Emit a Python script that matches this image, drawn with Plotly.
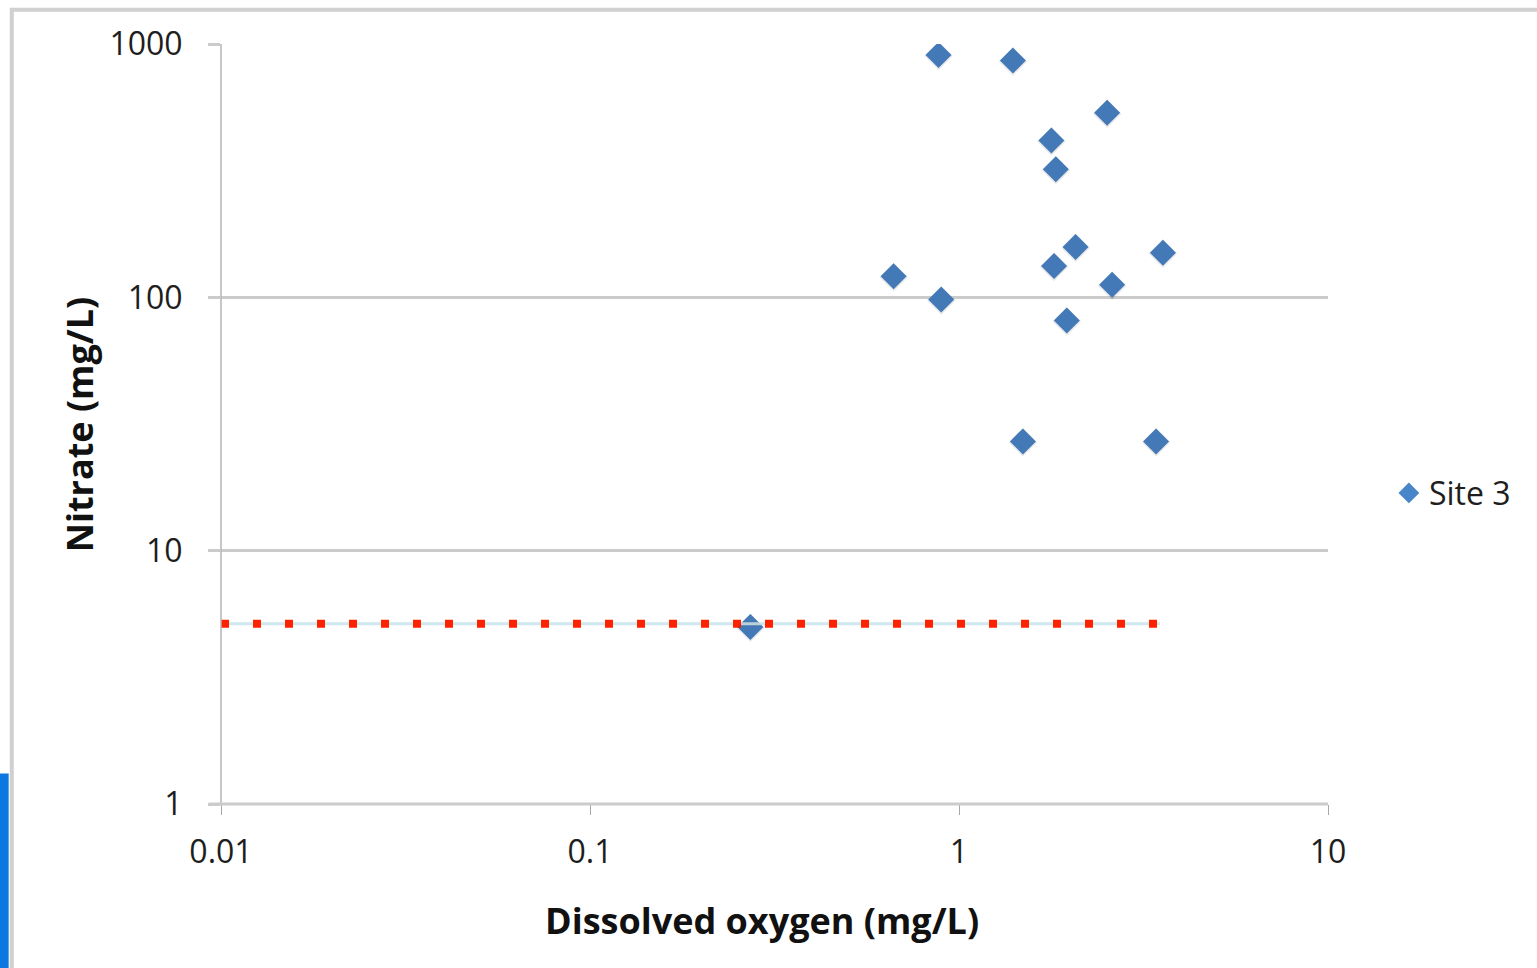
import plotly.graph_objects as go

# Site 3 samples: dissolved oxygen vs nitrate (both mg/L)
dissolved_oxygen = [0.88, 1.40, 2.52, 1.78, 1.83, 2.07, 3.57, 1.81, 0.665, 2.60, 0.895, 1.96, 1.49, 3.42, 0.272]
nitrate = [905, 860, 535, 416, 320, 158, 150, 133, 121, 112, 98, 81, 27, 27, 5.0]

# Reference level line
ref_x = [0.01, 3.5]
ref_y = [5.15, 5.15]

x_ticks = [0.01, 0.1, 1, 10]
x_tick_text = ["0.01", "0.1", "1", "10"]
y_ticks = [1, 10, 100, 1000]
y_tick_text = ["1", "10", "100", "1000"]

FONT = "'Open Sans', Lato, sans-serif"
BLUE = "#4985c9"
GRID = "#cbcbcb"
TEXT = "#1e1e1e"

fig = go.Figure()

# soft drop shadow behind the markers
fig.add_trace(go.Scatter(
    x=dissolved_oxygen, y=nitrate, mode="markers",
    marker=dict(symbol="diamond", size=22, color="rgba(0,0,0,0.09)", line=dict(width=0)),
    showlegend=False, hoverinfo="skip",
    xaxis="x2", yaxis="y2",
))

fig.add_trace(go.Scatter(
    x=dissolved_oxygen, y=nitrate, mode="markers", name="Site 3",
    marker=dict(symbol="diamond", size=20, color=BLUE, line=dict(width=0)),
))

fig.add_trace(go.Scatter(
    x=ref_x, y=ref_y, mode="lines", showlegend=False, hoverinfo="skip",
    line=dict(color="#cfe7ee", width=3),
))
fig.add_trace(go.Scatter(
    x=ref_x, y=ref_y, mode="lines", showlegend=False, hoverinfo="skip",
    line=dict(color="#ff2200", width=8, dash="8px,24px"),
))

axis_common = dict(type="log", showline=False, zeroline=False)

fig.update_layout(
    width=1537, height=968,
    margin=dict(l=220.5, r=209, t=44, b=163.5, pad=0),
    paper_bgcolor="white", plot_bgcolor="white",
    font=dict(family=FONT, size=32, color=TEXT),
    xaxis=dict(
        **axis_common, range=[-2, 1], tickvals=x_ticks, ticktext=x_tick_text,
        showgrid=False, ticks="outside", ticklen=10, tickwidth=1, tickcolor="#a8a8a8",
        ticklabelstandoff=10, tickfont=dict(size=32, color=TEXT),
    ),
    yaxis=dict(
        **axis_common, range=[0, 3], tickvals=y_ticks, ticktext=y_tick_text,
        showgrid=True, gridcolor=GRID, gridwidth=3,
        ticks="outside", ticklen=12, tickwidth=3, tickcolor=GRID,
        ticklabelstandoff=19, tickfont=dict(size=32, color=TEXT),
    ),
    xaxis2=dict(type="log", range=[-2, 1], overlaying="x", visible=False),
    yaxis2=dict(type="log", range=[0.0035, 3.0035], overlaying="y", visible=False),
    legend=dict(
        x=1.055, y=0.409, xanchor="left", yanchor="middle",
        font=dict(size=32, color=TEXT), bgcolor="rgba(0,0,0,0)",
        itemwidth=30, tracegroupgap=0,
    ),
    showlegend=True,
    annotations=[
        dict(text="<b>Dissolved oxygen (mg/L)</b>", xref="paper", yref="paper",
             x=0.489, y=-0.153, xanchor="center", yanchor="middle", showarrow=False,
             font=dict(size=36, color="#111111")),
        dict(text="<b>Nitrate (mg/L)</b>", xref="paper", yref="paper",
             x=-0.128, y=0.5, xanchor="center", yanchor="middle", textangle=-90,
             showarrow=False, font=dict(size=36, color="#111111")),
    ],
    shapes=[
        # vertical axis line
        dict(type="line", xref="paper", yref="paper", x0=0, x1=0, y0=0, y1=1,
             line=dict(color="#b5b5b5", width=1.5)),
        # baseline at the bottom of the value axis
        dict(type="line", xref="paper", yref="paper", x0=-0.011, x1=1, y0=0, y1=0,
             line=dict(color=GRID, width=3)),
        # outer chart frame
        dict(type="rect", xref="paper", yref="paper", x0=-0.189, x1=1.25, y0=-0.25, y1=1.045,
             line=dict(color="#d0d0d0", width=4), layer="below"),
        # selection strip at the left edge
        dict(type="rect", xref="paper", yref="paper", x0=-0.2, x1=-0.1918, y0=-0.22, y1=0.04,
             fillcolor="#0a78e0", line=dict(width=0)),
    ],
)

fig.write_html("out.html")
